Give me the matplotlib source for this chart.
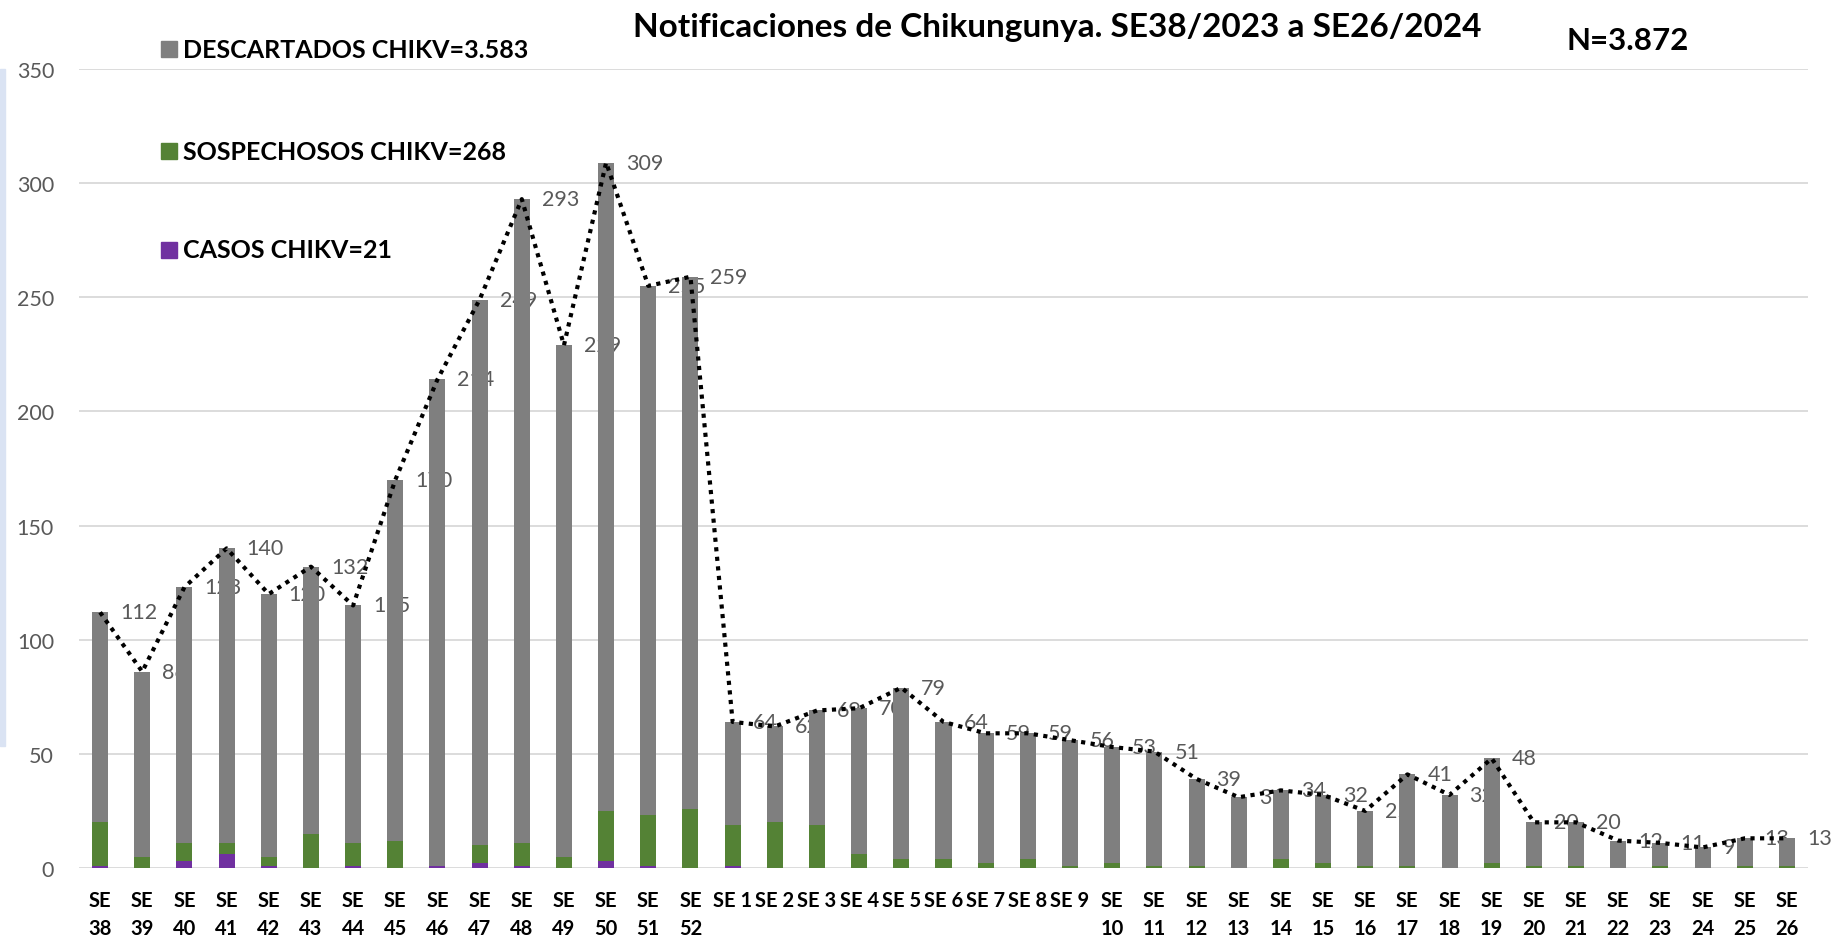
import matplotlib.pyplot as plt
import numpy as np

# data
weeks = ["SE\n38", "SE\n39", "SE\n40", "SE\n41", "SE\n42", "SE\n43", "SE\n44", "SE\n45",
         "SE\n46", "SE\n47", "SE\n48", "SE\n49", "SE\n50", "SE\n51", "SE\n52",
         "SE 1", "SE 2", "SE 3", "SE 4", "SE 5", "SE 6", "SE 7", "SE 8", "SE 9",
         "SE\n10", "SE\n11", "SE\n12", "SE\n13", "SE\n14", "SE\n15", "SE\n16", "SE\n17",
         "SE\n18", "SE\n19", "SE\n20", "SE\n21", "SE\n22", "SE\n23", "SE\n24", "SE\n25", "SE\n26"]

totales = [112, 86, 123, 140, 120, 132, 115, 170, 214, 249, 293, 229, 309, 255, 259,
           64, 62, 69, 70, 79, 64, 59, 59, 56, 53, 51, 39, 31, 34, 32, 25, 41, 32, 48,
           20, 20, 12, 11, 9, 13, 13]

casos = [1, 0, 3, 6, 1, 0, 1, 0, 1, 2, 1, 0, 3, 1, 0,
         1, 0, 0, 0, 0, 0, 0, 0, 0, 0, 0, 0, 0, 0, 0, 0, 0, 0, 0,
         0, 0, 0, 0, 0, 0, 0]

sospechosos = [19, 5, 8, 5, 4, 15, 10, 12, 0, 8, 10, 5, 22, 22, 26,
               18, 20, 19, 6, 4, 4, 2, 4, 1, 2, 1, 1, 0, 4, 2, 1, 1, 0, 2,
               1, 1, 0, 1, 0, 1, 1]

descartados = [t - s - c for t, s, c in zip(totales, sospechosos, casos)]

legend_labels = ["DESCARTADOS CHIKV=3.583", "SOSPECHOSOS CHIKV=268", "CASOS CHIKV=21"]

GRAY = "#7f7f7f"
GREEN = "#548235"
PURPLE = "#7030a0"
LABEL = "#595959"
BOLDFONT = ["Lato", "DejaVu Sans"]
NUMFONT = ["Lato", "DejaVu Sans"]

W, H = 1832, 937
fig = plt.figure(figsize=(W / 100, H / 100), dpi=100)
ax = fig.add_axes([79 / W, 68 / H, (1808 - 79) / W, (869 - 70) / H])

x = np.arange(len(weeks))
bw = 0.38
ax.bar(x, casos, bw, color=PURPLE, zorder=2)
ax.bar(x, sospechosos, bw, bottom=casos, color=GREEN, zorder=2)
ax.bar(x, descartados, bw, bottom=np.array(casos) + np.array(sospechosos), color=GRAY, zorder=2)

ax.plot(x, totales, color="black", linewidth=3, linestyle=(0, (1, 1.3)), zorder=3)

for xi, v in zip(x, totales):
    ax.annotate(str(v), (xi, v), xytext=(20, 0), textcoords="offset pixels",
                ha="left", va="center", fontsize=15.5, color=LABEL,
                family=NUMFONT, zorder=1, annotation_clip=False)

ax.set_xlim(-0.5, len(weeks) - 0.5)
ax.set_ylim(0, 350)
ax.set_yticks(np.arange(0, 351, 50))
ax.grid(axis="y", color="#d9d9d9", linewidth=1.3, zorder=0)
ax.set_axisbelow(True)
for s in ax.spines.values():
    s.set_visible(False)

ax.set_xticks(x)
ax.set_xticklabels(weeks, fontsize=14.5, fontweight="bold", linespacing=1.5,
                   family=BOLDFONT)
ax.tick_params(axis="x", length=0, pad=16, colors="black")
ax.tick_params(axis="y", length=0, pad=18, labelcolor=LABEL, labelsize=15.5)
for t in ax.get_yticklabels():
    t.set_family(NUMFONT)

# title and total
fig.text(1057 / W, 1 - 27 / H, "Notificaciones de Chikungunya. SE38/2023 a SE26/2024",
         ha="center", va="center", fontsize=24, fontweight="bold", family=BOLDFONT)
fig.text(1628 / W, 1 - 41 / H, "N=3.872", ha="center", va="center", fontsize=22.5,
         fontweight="bold", family=BOLDFONT)

# legend drawn by hand, stacked vertically like the original
for lab, col, yy in zip(legend_labels, [GRAY, GREEN, PURPLE], [50, 152, 251]):
    fig.patches.append(plt.Rectangle((161 / W, 1 - (yy + 8) / H), 16 / W, 16 / H,
                                     transform=fig.transFigure, color=col))
    fig.text(183 / W, 1 - yy / H, lab, ha="left", va="center", fontsize=18,
             fontweight="bold", family=BOLDFONT)

# thin light blue strip on the left edge
fig.patches.append(plt.Rectangle((0, 1 - 747 / H), 5 / W, (747 - 70) / H,
                                 transform=fig.transFigure, color="#dae3f3"))

fig.savefig("out.png", dpi=100)
